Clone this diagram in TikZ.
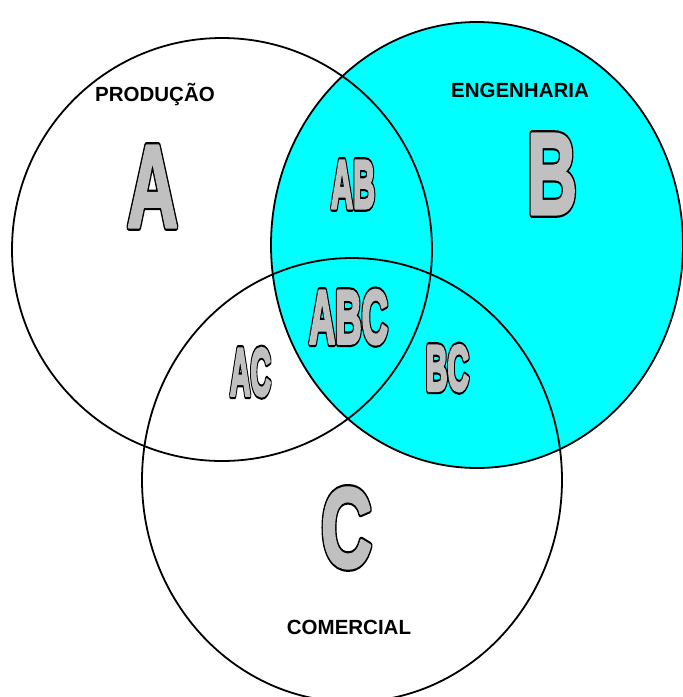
\documentclass[tikz,border=0pt]{standalone}
\usepackage{fontspec}
\setmainfont{Liberation Sans}
\usepackage{graphicx}
\definecolor{cyanfill}{HTML}{00FFFF}
\definecolor{lettergray}{HTML}{C0C0C0}
% outlined, heavy, condensed big letters: width, height, font size, text
\newcommand{\outlet}[4]{\resizebox{#1pt}{#2pt}{\fontsize{#3}{#3}\selectfont\bfseries
  \rlap{\color{black}\special{pdf:literal direct 2 Tr 7.5 w 1 j 0 G}#4\special{pdf:literal direct 0 Tr 1 w}}%
  {\color{lettergray}\special{pdf:literal direct 2 Tr 3.2 w 1 j 0.753 G}#4\special{pdf:literal direct 0 Tr 1 w 0 G}}}}
\begin{document}
\begin{tikzpicture}[x=1pt,y=-1pt,
  setline/.style={line width=1.8pt, draw=black},
  biglet/.style={inner sep=0pt, outer sep=0pt, anchor=south west},
  title/.style={inner sep=0pt, anchor=base, font=\fontsize{20.5}{20.5}\selectfont\bfseries}]
\useasboundingbox (0,0) rectangle (683,697);
\clip (0,0) rectangle (683,697);
\coordinate (cA) at (222,249.5);
\coordinate (cB) at (477,245);
\coordinate (cC) at (352,480);
% set B filled
\fill[cyanfill] (cB) ellipse [x radius=206, y radius=223];
\draw[setline] (cB) ellipse [x radius=206, y radius=223];
\draw[setline] (cA) ellipse [x radius=210, y radius=211.5];
\draw[setline] (cC) ellipse [x radius=210, y radius=222];
% titles
\node[title] (tA) at (155,101) {PRODUÇÃO};
\node[title] (tB) at (520,97) {ENGENHARIA};
\node[title] (tC) at (349,634) {COMERCIAL};
% big letters
\node[biglet] (lA) at (127,227) {\outlet{51}{81}{114}{A}};
\node[biglet] (lB) at (527,214) {\outlet{50}{80}{113}{B}};
\node[biglet] (lC) at (321,568) {\outlet{51}{79}{110}{C}};
\node[biglet] (lAB) at (331,208) {\outlet{44}{47}{66}{AB}};
\node[biglet] (lABC) at (309,344) {\outlet{79}{53}{74}{ABC}};
\node[biglet] (lAC) at (230,396) {\outlet{41}{47}{66}{AC}};
\node[biglet] (lBC) at (426,391) {\outlet{43}{45}{63}{BC}};
\end{tikzpicture}
\end{document}
